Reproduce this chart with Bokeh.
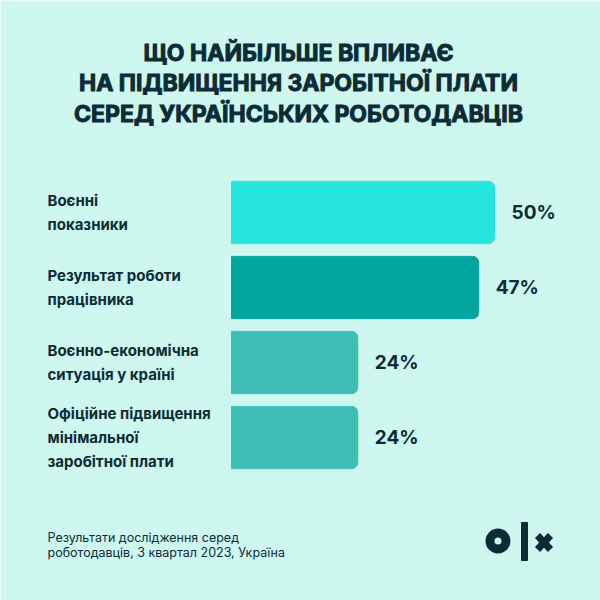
from bokeh.plotting import figure
from bokeh.models import Range1d, Label, ColumnDataSource
from bokeh.core.properties import value
from bokeh.embed import file_html
from bokeh.resources import INLINE

# ---- data ----
categories = [
    "Воєнні\nпоказники",
    "Результат роботи\nпрацівника",
    "Воєнно-економічна\nситуація у країні",
    "Офіційне підвищення\nмінімальної\nзаробітної плати",
]
values = [50, 47, 24, 24]
value_labels = ["50%", "47%", "24%", "24%"]
bar_colors = ["#25E5DC", "#03A59F", "#3CBDB5", "#3CBDB5"]
title_lines = [
    "ЩО НАЙБІЛЬШЕ ВПЛИВАЄ",
    "НА ПІДВИЩЕННЯ ЗАРОБІТНОЇ ПЛАТИ",
    "СЕРЕД УКРАЇНСЬКИХ РОБОТОДАВЦІВ",
]
footer_lines = [
    "Результати дослідження серед",
    "роботодавців, 3 квартал 2023, Україна",
]

BG = "#CEF7EF"
DARK = "#0B2C36"
FONT = "Inter"

rows = list(range(len(categories)))

p = figure(width=600, height=600, output_backend="svg", toolbar_location=None,
           x_range=Range1d(0, 600), y_range=Range1d(600, 0),
           min_border=0, outline_line_color=None,
           background_fill_color=BG, border_fill_color=BG,
           x_axis_location=None, y_axis_location=None)
p.grid.visible = False

# extra ranges: percent axis for bars, row axis for categories
p.extra_x_ranges = {"pct": Range1d(-231 / 5.26, (600 - 231) / 5.26)}
p.extra_y_ranges = {"row": Range1d(start=(600 - 212) / 75.0, end=-212 / 75.0)}

src = ColumnDataSource(dict(row=rows, val=values, color=bar_colors,
                            cat=categories, lab=value_labels,
                            zero=[0] * len(rows),
                            lx=[-231 / 5.26 + 47 / 5.26] * len(rows)))

p.hbar(y="row", left="zero", right="val", height=0.83, color="color",
       source=src, x_range_name="pct", y_range_name="row",
       border_radius=(0, 6, 6, 0))

# value labels placed after the bar end
p.text(x="val", y="row", text="lab", source=src, x_range_name="pct",
       y_range_name="row", x_offset=17, text_font=value(FONT),
       text_font_style="bold", text_font_size="19px", text_color=DARK,
       text_align="left", text_baseline="middle")

# category labels (left side)
p.text(x="lx", y="row", text="cat", source=src, x_range_name="pct",
       y_range_name="row", text_font=value(FONT), text_font_style="bold",
       text_font_size="15px", text_color=DARK, text_align="left",
       text_baseline="middle", text_line_height=1.25)

# title
title_y = [52, 82, 113]
for t, ty in zip(title_lines, title_y):
    p.add_layout(Label(x=298, y=600 - ty, x_units="screen",
                       y_units="screen", text=t, text_font="Inter",
                       text_font_style="bold", text_font_size="23px",
                       text_color=DARK, text_outline_color=DARK,
                       text_align="center", text_baseline="middle"))

# footer
for i, t in enumerate(footer_lines):
    p.add_layout(Label(x=47, y=600 - (537 + 15 * i), x_units="screen",
                       y_units="screen", text=t, text_font=FONT,
                       text_font_size="12.5px", text_color=DARK,
                       text_align="left", text_baseline="middle"))

# OLX logo
p.circle(x=[497.5], y=[540.5], radius=8, fill_color=None,
         line_color=DARK, line_width=9)
p.rect(x=[524], y=[541], width=6, height=38, color=DARK)
p.segment(x0=[537, 537], y0=[535, 549], x1=[550, 550], y1=[549, 535],
          line_color=DARK, line_width=7)

open("out.html", "w").write(file_html(p, INLINE))
